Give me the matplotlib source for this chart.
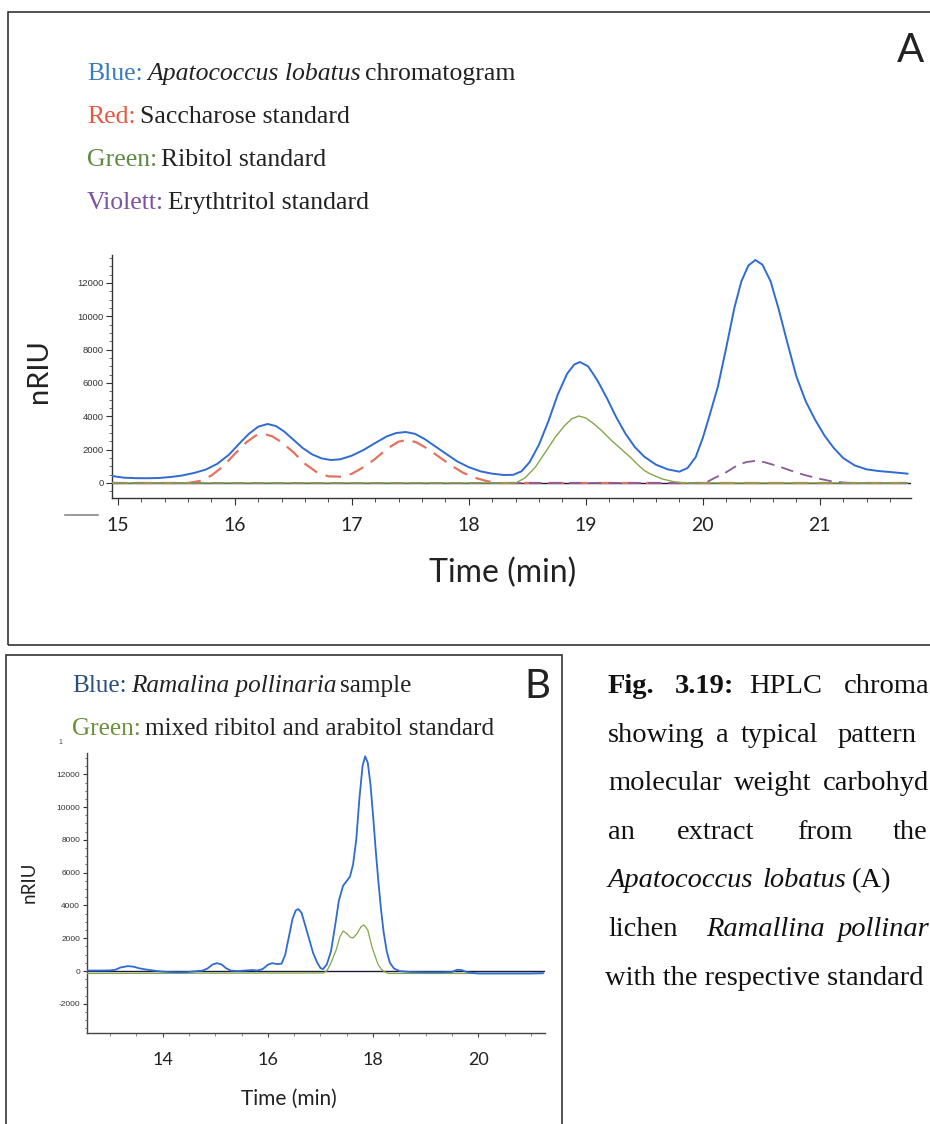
import matplotlib
matplotlib.use("Agg")
import matplotlib.pyplot as plt
from matplotlib.patches import Rectangle
from matplotlib.lines import Line2D
from matplotlib.text import Annotation
from matplotlib.ticker import MultipleLocator

plt.rcParams["axes.unicode_minus"] = False

# ---------------- data: panel A (Apatococcus lobatus) ----------------
a_blue_t = [14.95, 15.05, 15.15, 15.25, 15.35, 15.45, 15.55, 15.65, 15.75, 15.85,
            15.95, 16.05, 16.12, 16.2, 16.28, 16.35, 16.42, 16.5, 16.58, 16.66,
            16.74, 16.82, 16.9, 17.0, 17.1, 17.2, 17.3, 17.38, 17.46, 17.54,
            17.62, 17.7, 17.8, 17.9, 18.0, 18.1, 18.2, 18.3, 18.38, 18.45,
            18.52, 18.6, 18.68, 18.76, 18.84, 18.9, 18.95, 19.02, 19.1, 19.18,
            19.26, 19.34, 19.42, 19.5, 19.6, 19.7, 19.8, 19.87, 19.94, 20.0,
            20.06, 20.13, 20.2, 20.27, 20.33, 20.39, 20.45, 20.51, 20.58, 20.65,
            20.72, 20.8, 20.88, 20.96, 21.04, 21.12, 21.2, 21.3, 21.4, 21.5,
            21.6, 21.75]
a_blue_v = [420, 320, 290, 285, 300, 360, 450, 600, 800, 1150,
            1700, 2450, 2950, 3380, 3540, 3420, 3100, 2600, 2100, 1720,
            1480, 1380, 1420, 1640, 1980, 2400, 2800, 3000, 3060, 2950,
            2650, 2260, 1780, 1300, 950, 700, 560, 480, 490, 700,
            1250, 2300, 3700, 5300, 6550, 7100, 7260, 7000, 6150, 5100,
            3950, 2950, 2150, 1580, 1100, 820, 680, 900, 1560, 2700,
            4100, 5800, 8100, 10500, 12100, 13050, 13380, 13100, 12100, 10400,
            8500, 6400, 4900, 3800, 2850, 2100, 1500, 1050, 820, 720,
            660, 560]

a_red_t = [14.95, 15.6, 15.7, 15.8, 15.9, 16.0, 16.1, 16.18, 16.25, 16.32,
           16.4, 16.5, 16.6, 16.7, 16.8, 16.9, 17.0, 17.1, 17.2, 17.3,
           17.4, 17.47, 17.55, 17.65, 17.75, 17.85, 17.95, 18.05, 18.15, 18.25,
           21.75]
a_red_v = [0, 0, 120, 450, 1000, 1750, 2450, 2850, 2940, 2800,
           2450, 1850, 1150, 650, 400, 380, 550, 950, 1450, 2050,
           2480, 2580, 2450, 2050, 1550, 1050, 620, 320, 120, 0,
           0]

a_green_t = [14.95, 18.4, 18.48, 18.57, 18.65, 18.74, 18.82, 18.88, 18.94, 19.0,
             19.06, 19.13, 19.22, 19.3, 19.38, 19.46, 19.5, 19.55, 19.65, 19.75,
             19.85, 21.75]
a_green_v = [0, 0, 300, 960, 1800, 2760, 3450, 3850, 4020, 3900,
             3600, 3180, 2550, 2050, 1550, 1000, 750, 550, 250, 80,
             0, 0]

a_violet_t = [14.95, 20.02, 20.1, 20.19, 20.3, 20.37, 20.44, 20.52, 20.64, 20.75,
              20.87, 20.98, 21.09, 21.2, 21.26, 21.75]
a_violet_v = [0, 0, 300, 600, 1080, 1250, 1320, 1260, 1020, 750,
              480, 280, 120, 30, 0, 0]

a_xticks = [15, 16, 17, 18, 19, 20, 21]
a_yticks = [0, 2000, 4000, 6000, 8000, 10000, 12000]

# ---------------- data: panel B (Ramalina pollinaria) ----------------
b_blue_t = [12.56, 12.8, 13.0, 13.1, 13.2, 13.34, 13.45, 13.55, 13.65, 13.8,
            13.95, 14.1, 14.3, 14.46, 14.6, 14.75, 14.85, 14.95, 15.03, 15.12,
            15.2, 15.3, 15.45, 15.6, 15.7, 15.8, 15.9, 16.0, 16.08, 16.18,
            16.26, 16.33, 16.4, 16.47, 16.53, 16.58, 16.64, 16.7, 16.78, 16.86,
            16.94, 17.0, 17.05, 17.12, 17.2, 17.28, 17.35, 17.43, 17.5, 17.56,
            17.62, 17.68, 17.74, 17.8, 17.85, 17.9, 17.95, 18.0, 18.05, 18.1,
            18.15, 18.2, 18.26, 18.32, 18.4, 18.5, 18.7, 19.0, 19.3, 19.5,
            19.6, 19.68, 19.8, 20.0, 20.5, 21.0, 21.23]
b_blue_v = [30, 30, 40, 80, 220, 300, 260, 170, 110, 40,
            -20, -60, -80, -70, -20, 20, 150, 400, 480, 400,
            180, 20, 0, 40, 60, 30, 120, 380, 480, 420,
            450, 1000, 2100, 3200, 3700, 3780, 3550, 2900, 2000, 1100,
            500, 180, 120, 400, 1200, 2800, 4300, 5200, 5500, 5750,
            6500, 8000, 10500, 12500, 13100, 12700, 11400, 9500, 7400, 5500,
            3800, 2400, 1200, 500, 150, 0, -60, -80, -80, -60,
            80, 60, -80, -150, -150, -150, -130]

b_green_t = [12.56, 17.05, 17.12, 17.2, 17.3, 17.37, 17.43, 17.5, 17.57, 17.62,
             17.7, 17.77, 17.83, 17.9, 17.98, 18.05, 18.1, 18.16, 18.22, 18.3,
             21.23]
b_green_v = [-150, -120, 0, 500, 1300, 2100, 2440, 2300, 2050, 2020,
             2300, 2700, 2810, 2500, 1460, 800, 370, 100, -50, -150,
             -150]

b_xticks = [14, 16, 18, 20]
b_yticks = [-2000, 0, 2000, 4000, 6000, 8000, 10000, 12000]

# caption: visible words per line, left x of each word (last one right-aligned
# at the page edge where it runs off)
caption_lines = [
    ["Fig.", "3.19:", "HPLC", "chroma"],
    ["showing", "a", "typical", "pattern"],
    ["molecular", "weight", "carbohyd"],
    ["an", "extract", "from", "the"],
    ["Apatococcus", "lobatus", "(A)"],
    ["lichen", "Ramallina", "pollinar"],
    ["with the respective standard"],
]
caption_x = [
    [608, 675, 749, None],
    [608, 716, 741, 838],
    [608, 734, None],
    [608, 677, 797, 893],
    [608, 762, 852],
    [608, 706, None],
    [605],
]
caption_italic = {"Apatococcus", "lobatus", "Ramallina", "pollinar"}

BLUE = "#2f6bd0"
RED = "#e2735f"
GREEN = "#86a64a"
VIOLET = "#8b5a98"
BASE = "#1c1c3a"

W, H = 930, 1124
fig = plt.figure(figsize=(W / 100, H / 100), dpi=100)


def fx(x):
    return x / W


def fy(y):
    return 1 - y / H


SANS = "Lato"
SERIF = "Liberation Serif"

# panel frames
fig.add_artist(Rectangle((fx(8), fy(645)), fx(940) - fx(8), fy(12) - fy(645),
                         transform=fig.transFigure, fill=False, lw=1.2, ec="#333333"))
fig.add_artist(Rectangle((fx(6), fy(1135)), fx(562) - fx(6), fy(655) - fy(1135),
                         transform=fig.transFigure, fill=False, lw=1.2, ec="#333333"))


def colour_label(x, y, key, keycol, parts, size):
    """Coloured key word followed by text pieces (text, style)."""
    prev = fig.text(fx(x), fy(y), key, color=keycol, fontsize=size,
                    family=SERIF, va="baseline", ha="left")
    for txt, style in parts:
        ann = Annotation(txt, xy=(1, 0), xycoords=prev, xytext=(3, 0),
                         textcoords="offset points", va="bottom", ha="left",
                         fontsize=size, family=SERIF, style=style, color="#222222")
        fig.add_artist(ann)
        prev = ann


# ---------------- panel A ----------------
lab = 18.5
colour_label(87, 80, "Blue:", "#3a7cc0",
             [("Apatococcus lobatus", "italic"), ("chromatogram", "normal")], lab)
colour_label(87, 123, "Red:", "#e5583f", [("Saccharose standard", "normal")], lab)
colour_label(87, 166, "Green:", "#5f8a45", [("Ribitol standard", "normal")], lab)
colour_label(87, 209, "Violett:", "#7c52a4", [("Erythtritol standard", "normal")], lab)
fig.text(fx(910), fy(50), "A", fontsize=29, family=SANS, ha="center", va="center",
         color="#222222")

axA = fig.add_axes([fx(112), fy(498), fx(911) - fx(112), fy(255) - fy(498)])
axA.plot(a_red_t, a_red_v, color=RED, lw=1.6, dashes=(7, 4), zorder=3)
axA.plot(a_violet_t, a_violet_v, color=VIOLET, lw=1.3, dashes=(7, 4), zorder=3)
axA.plot(a_green_t, a_green_v, color=GREEN, lw=1.0, zorder=4)
axA.axhline(0, color=BASE, lw=1.0, zorder=2)
axA.plot(a_blue_t, a_blue_v, color=BLUE, lw=1.4, zorder=5)
axA.set_xlim(14.95, 21.78)
axA.set_ylim(-900, 13680)
axA.set_xticks(a_xticks)
axA.set_yticks(a_yticks)
axA.xaxis.set_minor_locator(MultipleLocator(0.2))
axA.yaxis.set_minor_locator(MultipleLocator(500))
for s in ["top", "right"]:
    axA.spines[s].set_visible(False)
for s in ["left", "bottom"]:
    axA.spines[s].set_color("#333333")
    axA.spines[s].set_linewidth(1.0)
axA.tick_params(axis="x", which="major", length=5, labelsize=14, pad=9,
                colors="#333333")
axA.tick_params(axis="x", which="minor", length=3, colors="#333333")
axA.tick_params(axis="y", which="major", length=4, labelsize=6.8, pad=2,
                colors="#333333")
axA.tick_params(axis="y", which="minor", length=2, colors="#555555")
for t in axA.get_xticklabels():
    t.set_family(SANS)
    t.set_color("#222222")
for t in axA.get_yticklabels():
    t.set_family("Liberation Sans")
axA.patch.set_alpha(0)

fig.text(fx(39), fy(371), "nRIU", rotation=90, fontsize=21, family=SANS,
         ha="center", va="center", color="#222222")
fig.text(fx(503), fy(573), "Time (min)", fontsize=23, family=SANS,
         ha="center", va="center", color="#222222")
fig.add_artist(Line2D([fx(65), fx(98)], [fy(515), fy(515)], color="#888888", lw=1.2,
                      transform=fig.transFigure))

# ---------------- panel B ----------------
colour_label(72, 692, "Blue:", "#2a4f7d",
             [("Ramalina pollinaria", "italic"), ("sample", "normal")], 18.2)
colour_label(72, 735, "Green:", "#6b8f3a",
             [("mixed ribitol and arabitol standard", "normal")], 18.2)
fig.text(fx(537), fy(686), "B", fontsize=29, family=SANS, ha="center", va="center",
         color="#222222")
fig.text(fx(60), fy(742), "1", fontsize=5, family="Liberation Sans", ha="center",
         va="center", color="#444444")

axB = fig.add_axes([fx(87), fy(1033), fx(545) - fx(87), fy(753) - fy(1033)])
axB.plot(b_green_t, b_green_v, color=GREEN, lw=0.9, zorder=4)
axB.axhline(0, color=BASE, lw=1.0, zorder=2)
axB.plot(b_blue_t, b_blue_v, color=BLUE, lw=1.3, zorder=5)
axB.set_xlim(12.56, 21.27)
axB.set_ylim(-3780, 13300)
axB.set_xticks(b_xticks)
axB.set_yticks(b_yticks)
axB.xaxis.set_minor_locator(MultipleLocator(0.5))
axB.yaxis.set_minor_locator(MultipleLocator(500))
for s in ["top", "right"]:
    axB.spines[s].set_visible(False)
for s in ["left", "bottom"]:
    axB.spines[s].set_color("#444444")
    axB.spines[s].set_linewidth(1.0)
axB.tick_params(axis="x", which="major", length=3, labelsize=13, pad=11,
                colors="#444444")
axB.tick_params(axis="x", which="minor", length=2, colors="#777777")
axB.tick_params(axis="y", which="major", length=3, labelsize=6, pad=2,
                colors="#333333")
axB.tick_params(axis="y", which="minor", length=1.5, colors="#555555")
for t in axB.get_xticklabels():
    t.set_family(SANS)
    t.set_color("#222222")
for t in axB.get_yticklabels():
    t.set_family("Liberation Sans")
axB.patch.set_alpha(0)

fig.text(fx(29), fy(882), "nRIU", rotation=90, fontsize=13.5, family=SANS,
         ha="center", va="center", color="#222222")
fig.text(fx(289), fy(1099), "Time (min)", fontsize=15, family=SANS,
         ha="center", va="center", color="#222222")

# ---------------- caption ----------------
for i, (words, xs) in enumerate(zip(caption_lines, caption_x)):
    y = fy(693 + i * 48.6)
    for j, (w, x) in enumerate(zip(words, xs)):
        weight = "bold" if (i == 0 and j < 2) else "normal"
        style = "italic" if w in caption_italic else "normal"
        ha = "left"
        if x is None:
            x, ha = 929, "right"
        fig.text(fx(x), y, w, fontsize=20.5, family=SERIF, weight=weight,
                 style=style, va="baseline", ha=ha, color="#111111")

fig.savefig("out.png", dpi=100)
